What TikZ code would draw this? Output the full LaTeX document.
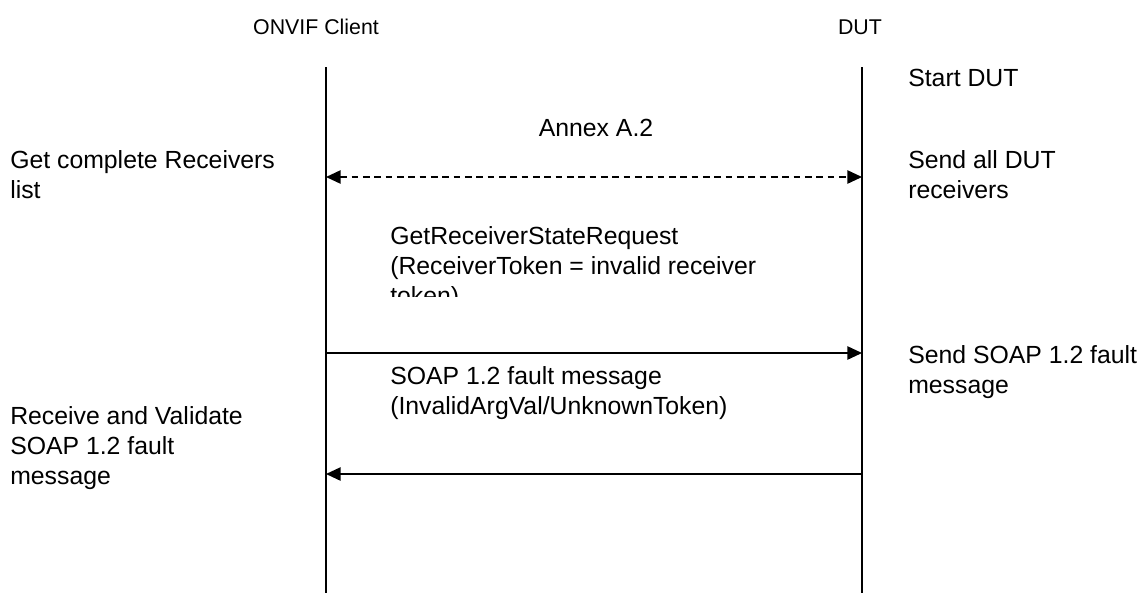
\documentclass[tikz,border=0pt]{standalone}
\usepackage{fontspec}
\setmainfont{Liberation Sans}
\usetikzlibrary{arrows.meta}
\begin{document}
\begin{tikzpicture}[x=0.75pt,y=-0.75pt,
  txt/.style={inner sep=0pt,anchor=base west,font=\fontsize{18.6}{22}\selectfont},
  hdr/.style={inner sep=0pt,anchor=base,font=\fontsize{16}{19}\selectfont},
  life/.style={line width=1.3pt},
  msg/.style={line width=1.2pt,-{Triangle[length=11pt,width=10pt]}},
  dmsg/.style={line width=1.2pt,dash pattern=on 5pt off 3.5pt,{Triangle[length=11pt,width=10pt]}-{Triangle[length=11pt,width=10pt]}}]
\useasboundingbox (0,0) rectangle (1141,593);
% headers
\node[hdr] (client) at (316,34) {ONVIF Client};
\node[hdr] (dut) at (860,34) {DUT};
% lifelines
\coordinate (ct) at (326,67); \coordinate (cb) at (326,593);
\coordinate (dt) at (862,67); \coordinate (db) at (862,593);
\draw[life] (ct) -- (cb);
\draw[life] (dt) -- (db);
% message anchors
\coordinate (c1) at (326,177); \coordinate (d1) at (862,177);
\coordinate (c2) at (326,353); \coordinate (d2) at (862,353);
\coordinate (c3) at (326,474); \coordinate (d3) at (862,474);
\draw[dmsg] (c1) -- (d1);
\draw[msg] (c2) -- (d2);
\draw[msg] (d3) -- (c3);
% DUT side notes
\node[txt] (sd) at (908,86) {Start DUT};
\node[txt] (sa1) at (908,168) {Send all DUT};
\node[txt] (sa2) at (908,198) {receivers};
\node[txt] (sf1) at (908,363) {Send SOAP 1.2 fault};
\node[txt] (sf2) at (908,393) {message};
% client side notes
\node[txt] (gc1) at (10,168) {Get complete Receivers};
\node[txt] (gc2) at (10,198) {list};
\node[txt] (rv1) at (10,424) {Receive and Validate};
\node[txt] (rv2) at (10,454) {SOAP 1.2 fault};
\node[txt] (rv3) at (10,484) {message};
% message labels
\node[txt,anchor=base] (annex) at (596,136) {Annex A.2};
\node[txt] (g1) at (390,244) {GetReceiverStateRequest};
\node[txt] (g2) at (390,274) {(ReceiverToken = invalid receiver};
\begin{scope}
\clip (380,280) rectangle (800,296);
\node[txt] (g3) at (390,304) {token)};
\end{scope}
\node[txt] (s1) at (390,384) {SOAP 1.2 fault message};
\node[txt] (s2) at (390,414) {(InvalidArgVal/UnknownToken)};
\end{tikzpicture}
\end{document}
